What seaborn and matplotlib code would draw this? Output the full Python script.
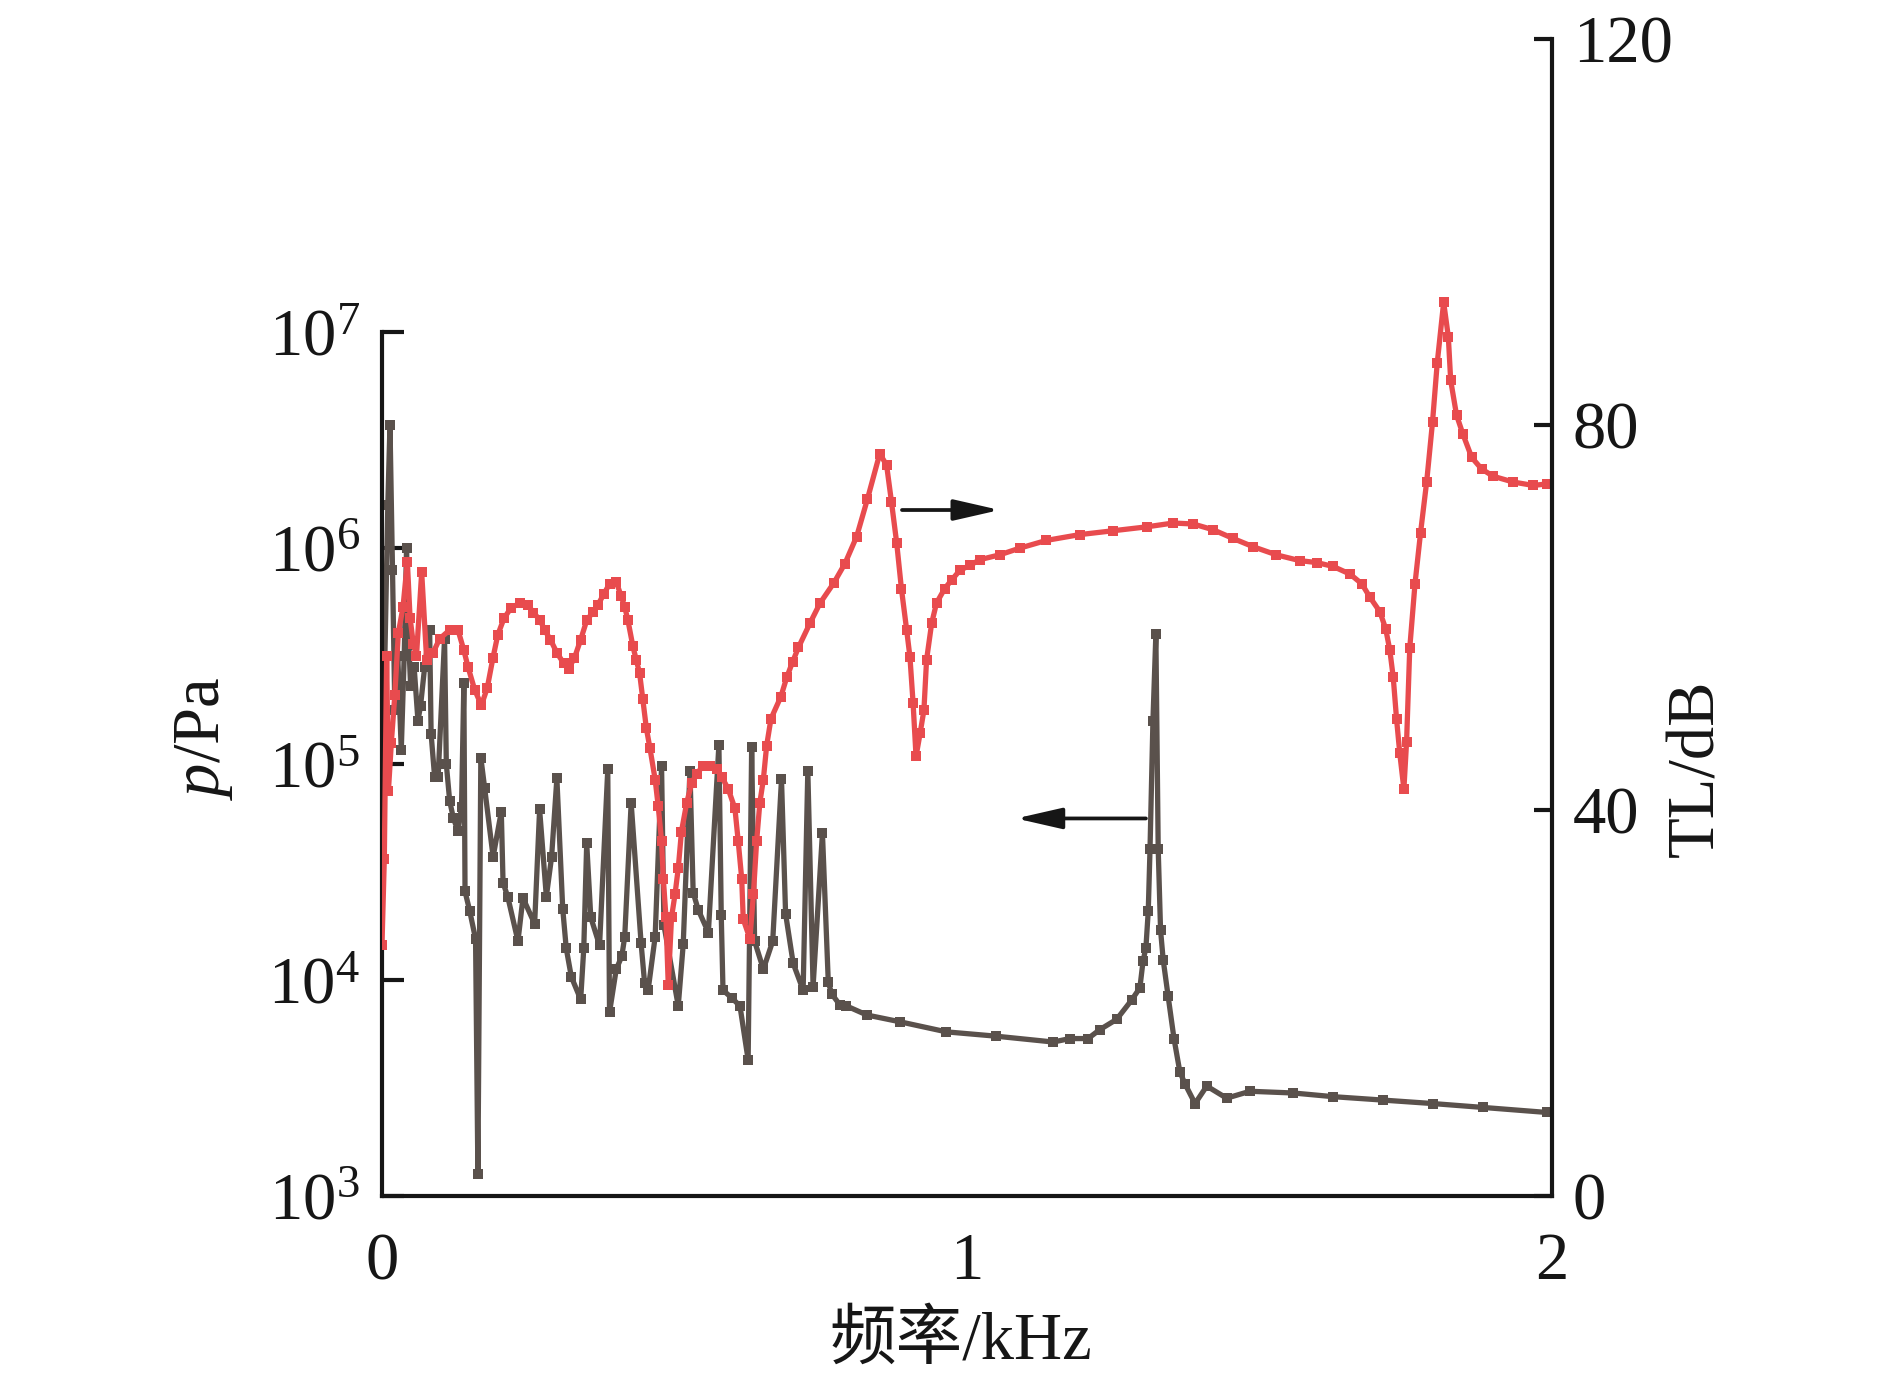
import numpy as np
import matplotlib
matplotlib.use('Agg')
import matplotlib.pyplot as plt
import seaborn as sns
from matplotlib.ticker import FixedLocator, NullLocator

# ---------------------------------------------------------
# data
# ---------------------------------------------------------
# transmission loss TL (right axis, dB)
tl_freq = [0.000, 0.004, 0.008, 0.011, 0.016, 0.022, 0.028, 0.036, 0.0434, 0.048,
           0.0535, 0.059, 0.0679, 0.0764, 0.087, 0.0986, 0.1157, 0.130, 0.140, 0.147,
           0.1585, 0.170, 0.180, 0.1897, 0.198, 0.2085, 0.220, 0.2353, 0.2496, 0.259,
           0.2706, 0.278, 0.288, 0.299, 0.3106, 0.319, 0.329, 0.3397, 0.350, 0.361,
           0.369, 0.379, 0.389, 0.4005, 0.409, 0.415, 0.4205, 0.429, 0.4347, 0.4405,
           0.446, 0.452, 0.458, 0.467, 0.4723, 0.478, 0.481, 0.4855, 0.4894, 0.495,
           0.501, 0.5065, 0.512, 0.521, 0.5294, 0.538, 0.549, 0.5607, 0.572, 0.5807,
           0.592, 0.6034, 0.609, 0.615, 0.6176, 0.629, 0.635, 0.6405, 0.646, 0.652,
           0.6576, 0.665, 0.682, 0.692, 0.702, 0.712, 0.732, 0.749, 0.7726, 0.7915,
           0.8115, 0.830, 0.851, 0.8627, 0.871, 0.880, 0.888, 0.897, 0.9026, 0.908,
           0.913, 0.920, 0.9265, 0.931, 0.9397, 0.948, 0.962, 0.974, 0.988, 1.005,
           1.022, 1.056, 1.0906, 1.136, 1.193, 1.250, 1.307, 1.3526, 1.387, 1.421,
           1.455, 1.489, 1.529, 1.569, 1.598, 1.626, 1.655, 1.675, 1.689, 1.706,
           1.716, 1.723, 1.7288, 1.7345, 1.740, 1.747, 1.7516, 1.757, 1.766, 1.7755,
           1.786, 1.796, 1.804, 1.815, 1.823, 1.827, 1.837, 1.848, 1.863, 1.880,
           1.8997, 1.934, 1.968, 1.991]
tl_db = [26.0, 35.0, 56.0, 42.0, 47.0, 52.0, 58.4, 61.1, 65.8, 60.0,
         57.3, 56.0, 64.7, 55.6, 56.3, 57.8, 58.7, 58.7, 56.6, 54.9,
         52.5, 50.9, 52.7, 55.8, 58.2, 59.9, 60.95, 61.5, 61.3, 60.5,
         59.7, 58.7, 57.7, 56.35, 55.25, 54.7, 55.8, 57.7, 59.7, 60.6,
         61.3, 62.4, 63.5, 63.7, 62.2, 61.1, 59.7, 57.0, 55.6, 54.2,
         51.5, 48.5, 46.5, 43.2, 40.4, 36.8, 32.9, 28.9, 21.9, 28.9,
         31.3, 34.0, 37.8, 40.8, 42.8, 43.8, 44.6, 44.6, 44.3, 43.5,
         42.2, 40.2, 36.8, 32.9, 28.7, 26.7, 31.3, 36.8, 40.8, 43.2,
         46.7, 49.5, 51.8, 53.8, 55.4, 56.9, 59.45, 61.5, 63.6, 65.6,
         68.4, 72.3, 77.0, 75.8, 72.0, 67.7, 63.0, 58.7, 55.9, 51.1,
         45.6, 48.0, 50.4, 55.6, 59.4, 61.5, 63.0, 63.9, 64.9, 65.4,
         66.0, 66.5, 67.2, 68.0, 68.6, 69.0, 69.4, 69.8, 69.7, 69.1,
         68.2, 67.35, 66.5, 65.9, 65.7, 65.3, 64.5, 63.5, 62.1, 60.6,
         58.8, 56.6, 53.8, 49.45, 45.9, 42.2, 47.1, 56.8, 63.5, 68.8,
         74.1, 80.3, 86.4, 92.7, 89.1, 84.6, 81.0, 79.0, 76.6, 75.4,
         74.65, 74.05, 73.7, 73.85]

# sound pressure p (left axis), stored as log10(p / Pa)
p_freq = [0.000, 0.005, 0.010, 0.0137, 0.018, 0.022, 0.027, 0.033, 0.038, 0.042,
          0.046, 0.049, 0.055, 0.0615, 0.066, 0.073, 0.0815, 0.084, 0.090, 0.096,
          0.107, 0.110, 0.1157, 0.122, 0.130, 0.136, 0.140, 0.142, 0.150, 0.160,
          0.164, 0.169, 0.1755, 0.190, 0.204, 0.207, 0.215, 0.2325, 0.241, 0.261,
          0.2695, 0.281, 0.290, 0.299, 0.309, 0.315, 0.3237, 0.3397, 0.345, 0.350,
          0.357, 0.372, 0.386, 0.389, 0.4005, 0.410, 0.415, 0.426, 0.443, 0.449,
          0.455, 0.467, 0.478, 0.482, 0.5065, 0.515, 0.5265, 0.532, 0.5407, 0.558,
          0.576, 0.580, 0.583, 0.598, 0.612, 0.626, 0.632, 0.637, 0.652, 0.668,
          0.683, 0.690, 0.703, 0.720, 0.728, 0.737, 0.753, 0.763, 0.769, 0.783,
          0.794, 0.829, 0.885, 0.965, 1.050, 1.1476, 1.176, 1.207, 1.227, 1.256,
          1.2815, 1.2957, 1.301, 1.306, 1.310, 1.313, 1.318, 1.323, 1.327, 1.331,
          1.3355, 1.344, 1.354, 1.364, 1.373, 1.390, 1.410, 1.444, 1.484, 1.558,
          1.626, 1.712, 1.797, 1.883, 1.991]
p_log = [4.90, 5.50, 6.20, 6.57, 5.90, 5.25, 5.50, 5.065, 5.50, 6.00,
         5.55, 5.36, 5.45, 5.20, 5.27, 5.45, 5.62, 5.14, 4.94, 4.94,
         5.58, 5.00, 4.83, 4.75, 4.69, 4.80, 5.375, 4.41, 4.32, 4.19,
         3.10, 5.03, 4.89, 4.57, 4.78, 4.45, 4.386, 4.18, 4.38, 4.26,
         4.79, 4.386, 4.57, 4.934, 4.33, 4.147, 4.015, 3.91, 4.147, 4.633,
         4.29, 4.16, 4.975, 3.85, 4.05, 4.11, 4.20, 4.82, 4.17, 3.985,
         3.953, 4.20, 4.99, 4.255, 3.88, 4.165, 4.97, 4.405, 4.325, 4.22,
         5.09, 4.30, 3.953, 3.917, 3.88, 3.63, 5.08, 4.18, 4.05, 4.18,
         4.93, 4.307, 4.077, 3.953, 4.97, 3.97, 4.68, 3.99, 3.935, 3.884,
         3.88, 3.838, 3.807, 3.76, 3.74, 3.713, 3.729, 3.729, 3.77, 3.818,
         3.907, 3.964, 4.086, 4.15, 4.32, 4.606, 5.20, 5.60, 4.606, 4.232,
         4.094, 3.924, 3.729, 3.575, 3.518, 3.428, 3.509, 3.453, 3.485, 3.477,
         3.46, 3.444, 3.428, 3.41, 3.387]
p_pa = 10.0 ** np.array(p_log)

p_ticks = [1e3, 1e4, 1e5, 1e6, 1e7]
tl_ticks = [0, 40, 80, 120]
x_ticks = [0, 1, 2]

# ---------------------------------------------------------
# style
# ---------------------------------------------------------
sns.set_style('white')
plt.rcParams['font.family'] = ['Liberation Serif', 'Noto Sans CJK SC']
plt.rcParams['mathtext.fontset'] = 'custom'
plt.rcParams['mathtext.rm'] = 'Liberation Serif'
plt.rcParams['mathtext.it'] = 'Liberation Serif:italic'
plt.rcParams['mathtext.bf'] = 'Liberation Serif:bold'

INK = '#161616'
GRAY = '#5a514c'
RED = '#e84b4e'
FS = 48

fig = plt.figure(figsize=(18.9, 13.93), dpi=100)
ax = fig.add_axes([0.2021, 0.1414, 0.6190, 0.8306])
ax2 = ax.twinx()

# ---------------------------------------------------------
# curves
# ---------------------------------------------------------
ax.set_yscale('log')
sns.lineplot(x=p_freq, y=p_pa, ax=ax, color=GRAY, marker='s', markersize=7,
             markeredgewidth=0, linewidth=3.8, sort=False, estimator=None)
sns.lineplot(x=tl_freq, y=tl_db, ax=ax2, color=RED, marker='s', markersize=7,
             markeredgewidth=0, linewidth=3.8, sort=False, estimator=None)

# ---------------------------------------------------------
# axes
# ---------------------------------------------------------
ax.set_xlim(0, 2)
ax.set_ylim(1e3, 10 ** 8.3565)
ax2.set_ylim(0, 120)

ax.xaxis.set_major_locator(FixedLocator(x_ticks))
ax.set_xticklabels([str(v) for v in x_ticks])
ax.yaxis.set_major_locator(FixedLocator(p_ticks))
ax.yaxis.set_minor_locator(NullLocator())
ax2.yaxis.set_major_locator(FixedLocator(tl_ticks))
ax2.set_yticklabels([str(v) for v in tl_ticks])

for s in ['top', 'right']:
    ax.spines[s].set_visible(False)
for s in ['top', 'left', 'bottom']:
    ax2.spines[s].set_visible(False)
ax.spines['left'].set_bounds(1e3, 1e7)
for sp in [ax.spines['left'], ax.spines['bottom'], ax2.spines['right']]:
    sp.set_linewidth(3)
    sp.set_color(INK)

ax.tick_params(axis='x', direction='in', length=16, width=3, color=INK,
               labelsize=FS, labelcolor=INK, pad=26)
ax.tick_params(axis='y', direction='in', length=15.5, width=3, color=INK,
               labelsize=FS, labelcolor=INK, pad=16)
ax2.tick_params(axis='y', direction='in', length=13, width=3, color=INK,
                labelsize=FS, labelcolor=INK, pad=15)

ax.set_xlabel('频率/kHz', fontsize=FS, color=INK)
ax.set_ylabel('$p$/Pa', fontsize=FS, color=INK)
ax2.set_ylabel('TL/dB', fontsize=FS, color=INK)
ax.xaxis.set_label_coords(0.495, -0.099)
ax.yaxis.set_label_coords(-0.126, 0.396)
ax2.yaxis.set_label_coords(1.098, 0.37)

# direction arrows
arrow_kw = dict(arrowstyle='-|>,head_length=1.4,head_width=0.32', color=INK,
                lw=2.7, mutation_scale=20, shrinkA=0, shrinkB=0)
ax2.annotate('', xy=(1.056, 71.15), xytext=(0.889, 71.15), arrowprops=arrow_kw)
ax.annotate('', xy=(1.084, 10 ** 4.748), xytext=(1.306, 10 ** 4.748), arrowprops=arrow_kw)

fig.savefig('out.png', dpi=100, facecolor='white')
